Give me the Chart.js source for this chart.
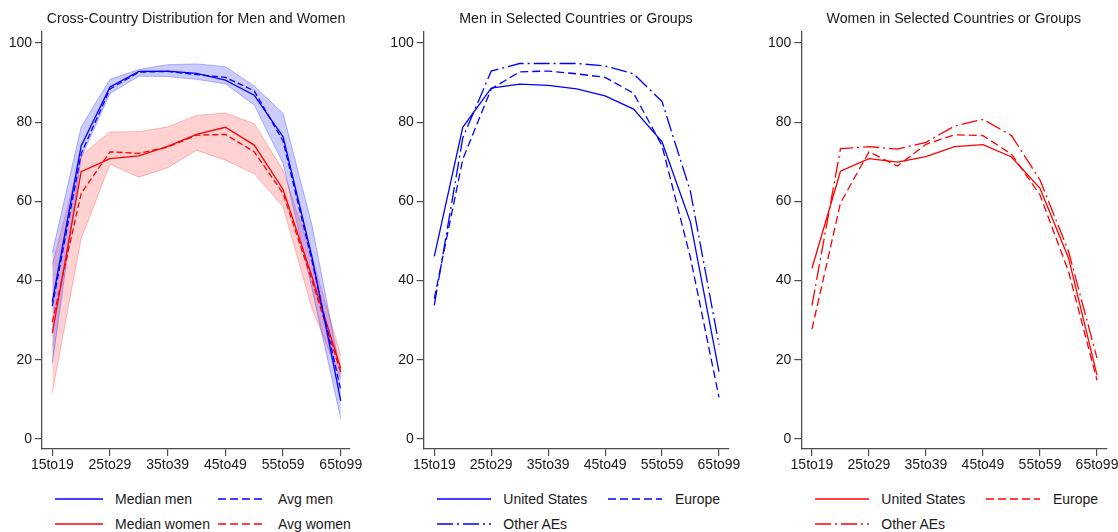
<!DOCTYPE html>
<html>
<head>
<meta charset="utf-8">
<title>Participation by age group</title>
<script src="https://cdn.jsdelivr.net/npm/chart.js@4.4.1/dist/chart.umd.min.js"></script>
<style>
  html, body { margin: 0; padding: 0; background: #fff; }
  body {
    width: 1118px; height: 532px; overflow: hidden; position: relative;
    font-family: "Liberation Sans", Arial, sans-serif; color: #1a1a1a;
  }
  canvas { position: absolute; top: 0; }
  .key { position: absolute; height: 10px; }
  .lbl { position: absolute; font-size: 14px; line-height: 16px; white-space: nowrap; }
</style>
</head>
<body>
<canvas id="chart1" width="373" height="480" style="left:0px"></canvas>
<canvas id="chart2" width="373" height="480" style="left:382px"></canvas>
<canvas id="chart3" width="359" height="480" style="left:759px"></canvas>
<div id="legends"></div>

<script>
// Age groups (x axis) and which of them get a tick label
const categories = ['15to19', '20to24', '25to29', '30to34', '35to39', '40to44',
                    '45to49', '50to54', '55to59', '60to64', '65to99'];
const xTickIndex = [0, 2, 4, 6, 8, 10];
const yTicks = [0, 20, 40, 60, 80, 100];

// Panel 1: cross-country median / average and ranges
const medianMen   = [34.6, 74.0, 88.9, 92.8, 92.9, 92.3, 90.6, 86.8, 76.3, 46.0, 9.6];
const avgMen      = [33.5, 72.0, 88.4, 92.6, 92.8, 92.0, 91.3, 87.9, 75.2, 45.0, 12.3];
const menHigh     = [47.0, 78.8, 90.8, 93.3, 94.5, 94.7, 94.0, 89.1, 82.2, 54.0, 16.5];
const menLow      = [19.0, 71.0, 87.2, 91.6, 91.5, 90.8, 89.7, 84.3, 69.6, 38.0, 5.1];
const medianWomen = [26.7, 67.5, 70.8, 71.5, 73.9, 76.9, 78.7, 74.2, 63.0, 41.0, 17.8];
const avgWomen    = [29.5, 62.0, 72.5, 72.1, 73.7, 76.7, 76.9, 72.5, 62.0, 40.0, 16.8];
const womenHigh   = [44.0, 71.6, 77.5, 77.6, 78.8, 81.7, 82.3, 79.6, 67.8, 46.0, 21.0];
const womenLow    = [11.7, 50.6, 69.4, 66.1, 68.5, 72.9, 70.4, 67.0, 58.6, 33.0, 15.0];

// Panel 2: men
const usMen     = [46.1, 78.7, 88.6, 89.6, 89.3, 88.4, 86.6, 83.3, 75.0, 54.7, 17.0];
const europeMen = [35.4, 70.6, 88.4, 92.7, 92.9, 92.2, 91.3, 87.3, 74.0, 45.7, 10.5];
const otherMen  = [33.7, 76.0, 92.9, 94.8, 94.8, 94.8, 94.2, 92.2, 85.2, 62.4, 23.8];

// Panel 3: women
const usWomen     = [43.1, 67.6, 70.8, 69.9, 71.3, 73.8, 74.3, 71.2, 63.3, 45.7, 16.1];
const europeWomen = [27.7, 59.6, 72.5, 68.9, 74.4, 76.8, 76.6, 71.9, 61.6, 42.3, 14.8];
const otherWomen  = [33.7, 73.3, 73.8, 73.2, 74.9, 79.0, 80.7, 76.6, 65.4, 47.4, 20.4];

const BLUE = '#0000ff';
const RED = '#ff0000';
const AXIS = '#4d4d4d';
const TEXT = '#1a1a1a';
const FONT = { family: '"Liberation Sans", Arial, sans-serif', size: 14, weight: 'normal' };
const TITLE_FONT = { family: '"Liberation Sans", Arial, sans-serif', size: 14.2, weight: 'normal' };
const SOLID = [];
const DASH = [8, 4];
const DASHDOT = [16, 4, 2, 4];

function points(values) {
    return values.map((v, i) => ({ x: i, y: v }));
}

function line(label, values, color, dash) {
    return {
        label: label,
        data: points(values),
        borderColor: color,
        borderWidth: 1.3,
        borderDash: dash,
        pointRadius: 0,
        fill: false,
        tension: 0,
        order: 1
    };
}

// upper edge filled down to the lower edge (the dataset right after it)
function band(high, low, fillColor, edgeColor) {
    return [
        { data: points(high), borderColor: edgeColor, borderWidth: 1, backgroundColor: fillColor,
          pointRadius: 0, fill: '+1', tension: 0, order: 5 },
        { data: points(low), borderColor: edgeColor, borderWidth: 1,
          pointRadius: 0, fill: false, tension: 0, order: 5 }
    ];
}

// frame = [y axis width, padding right, x min, x max]
function makeChart(id, title, datasets, frame) {
    return new Chart(document.getElementById(id), {
        type: 'line',
        data: { datasets: datasets },
        options: {
            responsive: false,
            animation: false,
            layout: { padding: { left: 0, right: frame[1], top: 0, bottom: 0 } },
            plugins: {
                legend: { display: false },
                tooltip: { enabled: false },
                title: {
                    display: true,
                    text: title,
                    fullSize: false,
                    color: TEXT,
                    font: TITLE_FONT,
                    padding: { top: 10.8, bottom: 4.2 }
                }
            },
            scales: {
                x: {
                    type: 'linear',
                    min: frame[2],
                    max: frame[3],
                    grid: { drawOnChartArea: false, drawTicks: true, tickLength: 7, color: AXIS, lineWidth: 1.2 },
                    border: { display: true, color: AXIS, width: 1.3 },
                    ticks: {
                        padding: 1,
                        autoSkip: false,
                        maxRotation: 0,
                        color: TEXT,
                        font: FONT,
                        callback: v => categories[v]
                    },
                    afterBuildTicks: s => { s.ticks = xTickIndex.map(v => ({ value: v })); },
                    afterFit: s => { s.height = 31; s.paddingLeft = 0; s.paddingRight = 0; }
                },
                y: {
                    min: -2.55,
                    max: 102.75,
                    grid: { drawOnChartArea: false, drawTicks: true, tickLength: 7, color: AXIS, lineWidth: 1.2 },
                    border: { display: true, color: AXIS, width: 1.3 },
                    ticks: { padding: 3, color: TEXT, font: FONT },
                    afterBuildTicks: s => { s.ticks = yTicks.map(v => ({ value: v })); },
                    afterFit: s => { s.width = frame[0]; s.paddingTop = 0; s.paddingBottom = 0; }
                }
            }
        }
    });
}

makeChart('chart1', 'Cross-Country Distribution for Men and Women', [
    ...band(menHigh, menLow, 'rgba(0,0,255,0.2)', 'rgba(0,0,255,0.28)'),
    ...band(womenHigh, womenLow, 'rgba(255,0,0,0.18)', 'rgba(255,0,0,0.25)'),
    line('Median men', medianMen, BLUE, SOLID),
    line('Avg men', avgMen, BLUE, [6, 3]),
    line('Median women', medianWomen, RED, SOLID),
    line('Avg women', avgWomen, RED, [6, 3])
], [42, 23, -0.357, 10.32]);

makeChart('chart2', 'Men in Selected Countries or Groups', [
    line('United States', usMen, BLUE, SOLID),
    line('Europe', europeMen, BLUE, DASH),
    line('Other AEs', otherMen, BLUE, DASHDOT)
], [41.7, 26.7, -0.372, 10.327]);

makeChart('chart3', 'Women in Selected Countries or Groups', [
    line('United States', usWomen, RED, SOLID),
    line('Europe', europeWomen, RED, DASH),
    line('Other AEs', otherWomen, RED, DASHDOT)
], [42.3, 11.7, -0.375, 10.326]);

// Legends below each panel, two columns like the original
const legendRows = [499.4, 524.4];
const legends = [
    { cols: [55, 218], keyLen: 48, gap: 12, items: [
        ['Median men', BLUE, SOLID], ['Avg men', BLUE, DASH],
        ['Median women', RED, SOLID], ['Avg women', RED, DASH] ] },
    { cols: [436.7, 608.3], keyLen: 54, gap: 12.6, items: [
        ['United States', BLUE, SOLID], ['Europe', BLUE, DASH], ['Other AEs', BLUE, DASHDOT] ] },
    { cols: [814.7, 986.3], keyLen: 54, gap: 12.6, items: [
        ['United States', RED, SOLID], ['Europe', RED, DASH], ['Other AEs', RED, DASHDOT] ] }
];

const legendBox = document.getElementById('legends');
legends.forEach(lg => {
    lg.items.forEach((item, i) => {
        const x = lg.cols[i % 2];
        const y = legendRows[Math.floor(i / 2)];
        const key = document.createElementNS('http://www.w3.org/2000/svg', 'svg');
        key.setAttribute('class', 'key');
        key.setAttribute('width', lg.keyLen);
        key.setAttribute('height', 10);
        key.style.left = x + 'px';
        key.style.top = (y - 5) + 'px';
        key.innerHTML = '<line x1="0" y1="5" x2="' + lg.keyLen + '" y2="5" stroke="' + item[1] +
            '" stroke-width="1.3" stroke-dasharray="' + (item[2].length ? item[2].join(' ') : 'none') + '"/>';
        legendBox.appendChild(key);

        const label = document.createElement('div');
        label.className = 'lbl';
        label.textContent = item[0];
        label.style.left = (x + lg.keyLen + lg.gap) + 'px';
        label.style.top = (y - 8) + 'px';
        legendBox.appendChild(label);
    });
});
</script>
</body>
</html>
